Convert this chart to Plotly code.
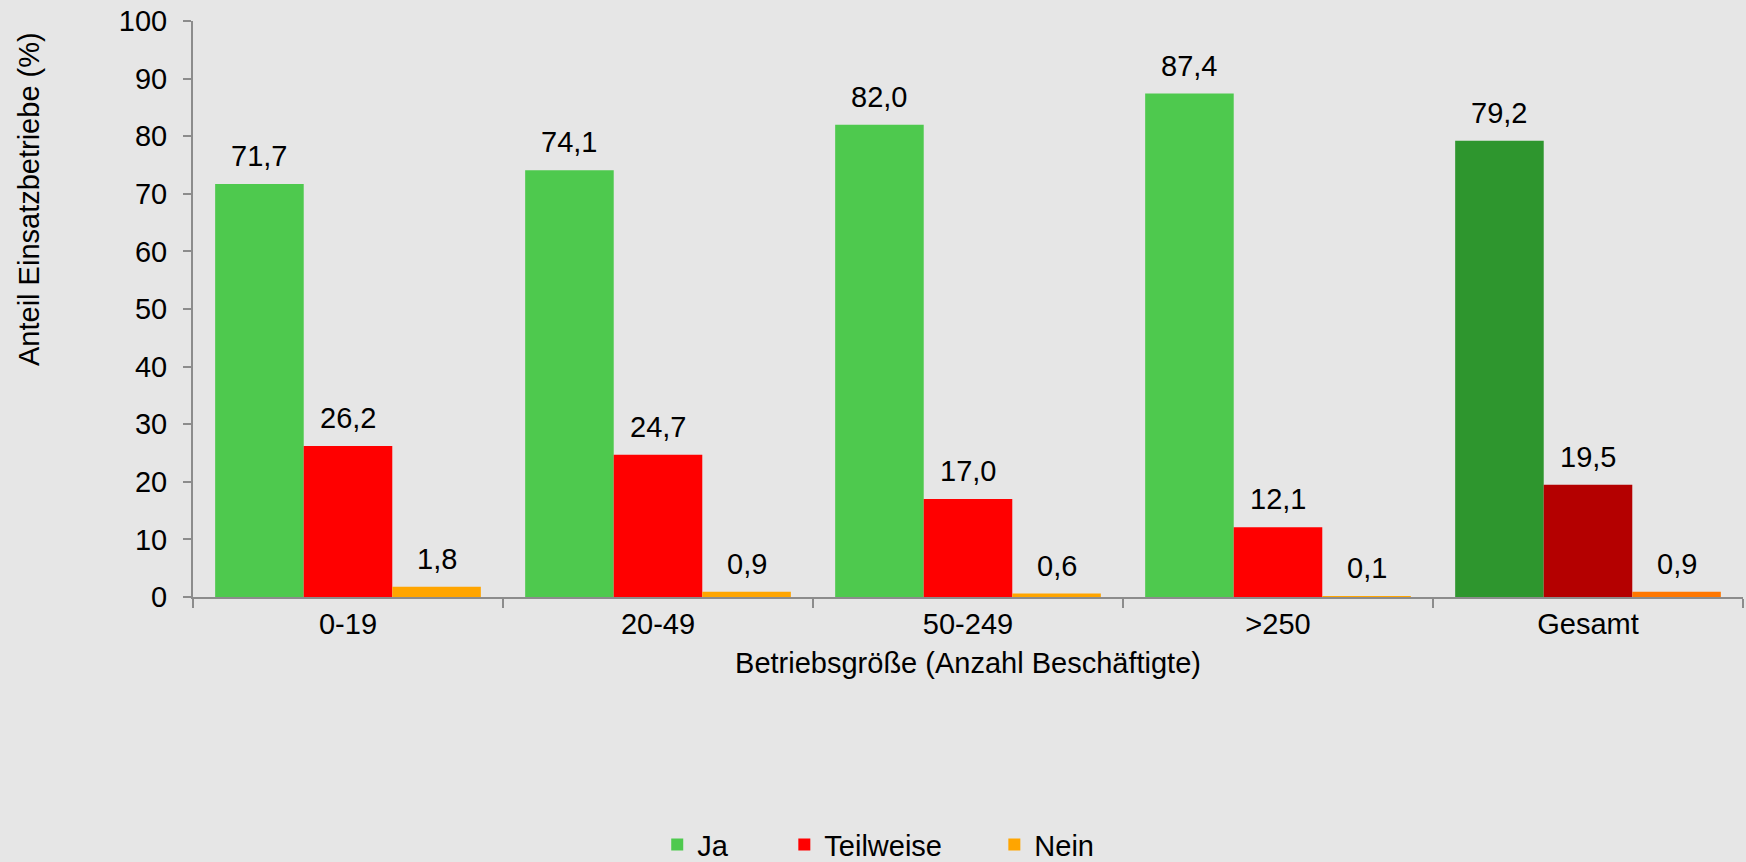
import plotly.graph_objects as go

categories = ["0-19", "20-49", "50-249", ">250", "Gesamt"]
series_names = ["Ja", "Teilweise", "Nein"]
ja = [71.7, 74.1, 82.0, 87.4, 79.2]
teilweise = [26.2, 24.7, 17.0, 12.1, 19.5]
nein = [1.8, 0.9, 0.6, 0.1, 0.9]
y_ticks = [0, 10, 20, 30, 40, 50, 60, 70, 80, 90, 100]

base_colors = ["#4EC94E", "#FF0000", "#FFA500"]
total_colors = ["#2E962E", "#B40000", "#FF7700"]

FONT = "Liberation Sans, Arial, sans-serif"
FS = 29
BARGAP = 0.143

fig = go.Figure()
values = [ja, teilweise, nein]
legend_ids = ["legend", "legend2", "legend3"]
for j, (name, vals) in enumerate(zip(series_names, values)):
    colors = [base_colors[j]] * (len(categories) - 1) + [total_colors[j]]
    fig.add_trace(go.Bar(
        x=categories, y=vals, name=name,
        marker=dict(color=colors, line=dict(width=0)),
        legend=legend_ids[j], showlegend=True,
        hoverinfo="x+y+name",
    ))

# value labels above bars
annotations = []
n_series = len(series_names)
bw = (1 - BARGAP) / n_series
for j, vals in enumerate(values):
    for i, v in enumerate(vals):
        annotations.append(dict(
            x=i + (j - (n_series - 1) / 2) * bw, y=v, xref="x", yref="y",
            text=f"{v:.1f}".replace(".", ","), showarrow=False,
            yanchor="bottom", xanchor="center", yshift=10,
            font=dict(family=FONT, size=FS, color="black"),
        ))

# y axis title
annotations.append(dict(
    x=-0.1058, y=0.691, xref="paper", yref="paper",
    text="Anteil Einsatzbetriebe (%)", textangle=-90, showarrow=False,
    xanchor="center", yanchor="middle",
    font=dict(family=FONT, size=FS, color="black"),
))

legend_common = dict(
    orientation="h", yanchor="middle", xanchor="left", y=-0.43,
    bgcolor="rgba(0,0,0,0)", borderwidth=0,
    font=dict(family=FONT, size=FS, color="black"),
    itemclick=False, itemdoubleclick=False,
)

fig.update_layout(
    width=1746, height=862,
    margin=dict(l=193, r=3, t=21, b=265, autoexpand=False),
    paper_bgcolor="#E6E6E6", plot_bgcolor="#E6E6E6",
    barmode="group", bargap=BARGAP, bargroupgap=0,
    separators=", ", showlegend=True,
    font=dict(family=FONT, size=FS, color="black"),
    annotations=annotations,
    legend=dict(x=0.2995, **legend_common),
    legend2=dict(x=0.3815, **legend_common),
    legend3=dict(x=0.517, **legend_common),
    xaxis=dict(
        type="category", showgrid=False, zeroline=False,
        showline=True, linecolor="#8C8C8C", linewidth=2,
        ticks="outside", tickson="boundaries", ticklen=9, tickwidth=2, tickcolor="#8C8C8C",
        tickfont=dict(family=FONT, size=FS, color="black"),
        title=dict(text="Betriebsgröße (Anzahl Beschäftigte)", standoff=14,
                   font=dict(family=FONT, size=FS, color="black")),
    ),
    yaxis=dict(
        range=[0, 100], tickvals=y_ticks, showgrid=False, zeroline=False,
        showline=True, linecolor="#8C8C8C", linewidth=2,
        ticks="outside", ticklen=8, tickwidth=2, tickcolor="#8C8C8C",
        tickfont=dict(family=FONT, size=FS, color="black"),
        ticklabelstandoff=10,
    ),
)

fig.write_html("out.html", config={"displayModeBar": False},
               post_script="document.body.style.margin='0';")
